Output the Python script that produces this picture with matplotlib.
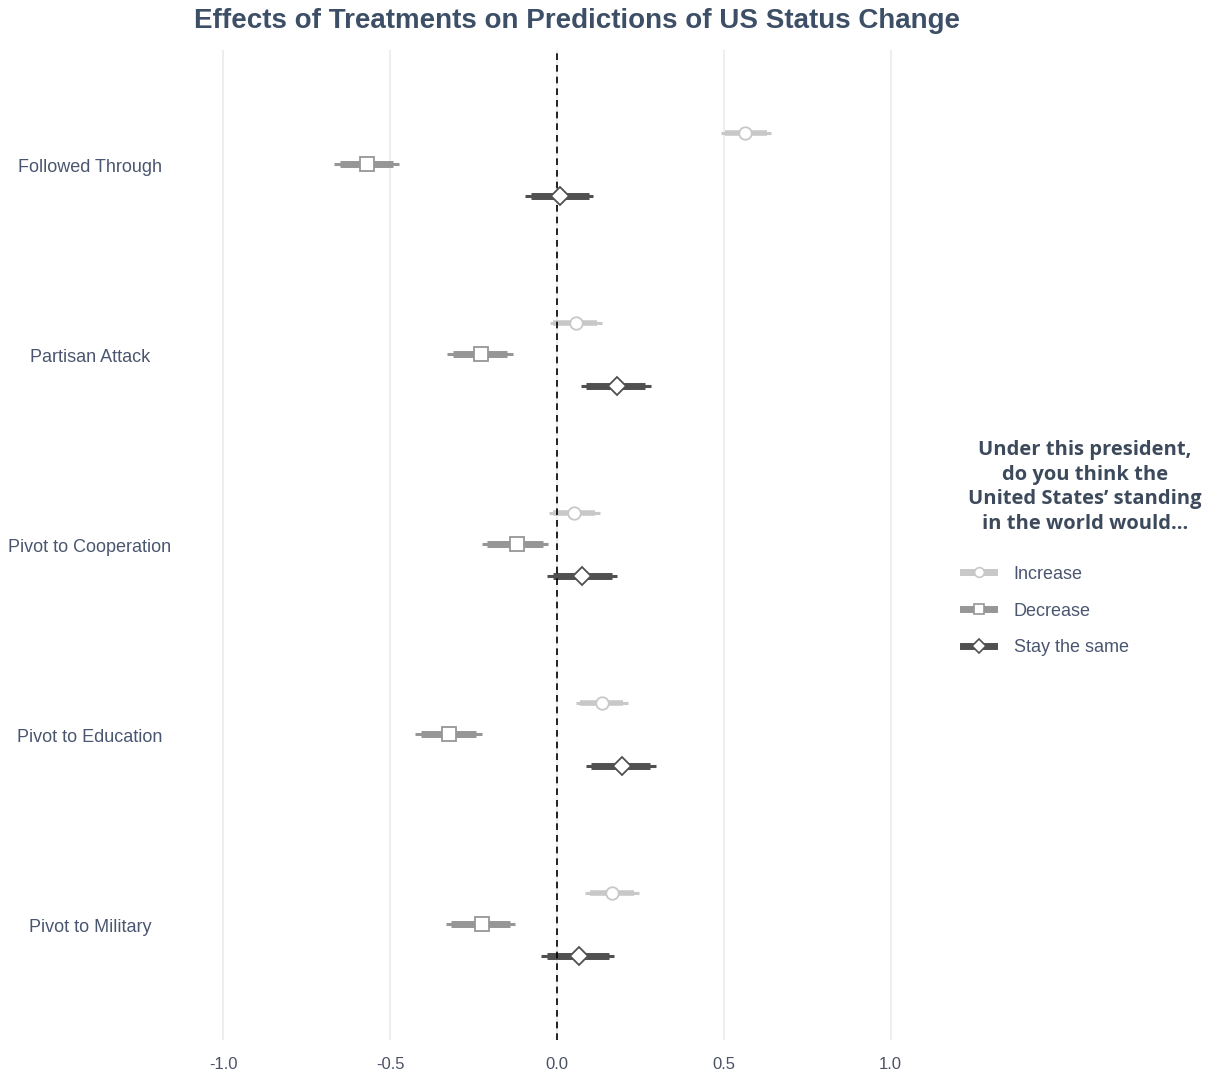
import matplotlib
matplotlib.use("Agg")
import matplotlib.pyplot as plt
from matplotlib.lines import Line2D
import numpy as np

categories = ["Followed Through", "Partisan Attack", "Pivot to Cooperation",
              "Pivot to Education", "Pivot to Military"]
series = ["Increase", "Decrease", "Stay the same"]

# estimates, inner (thick) CI, outer (thin) CI per series, in category order
est = {
    "Increase":      [0.564, 0.056, 0.051, 0.134, 0.164],
    "Decrease":      [-0.569, -0.228, -0.121, -0.323, -0.226],
    "Stay the same": [0.009, 0.179, 0.076, 0.194, 0.066],
}
inner_lo = {
    "Increase":      [0.504, -0.012, -0.011, 0.069, 0.099],
    "Decrease":      [-0.651, -0.313, -0.209, -0.409, -0.318],
    "Stay the same": [-0.079, 0.087, -0.013, 0.102, -0.031],
}
inner_hi = {
    "Increase":      [0.629, 0.119, 0.114, 0.197, 0.232],
    "Decrease":      [-0.492, -0.149, -0.041, -0.243, -0.141],
    "Stay the same": [0.095, 0.264, 0.164, 0.280, 0.156],
}
outer_lo = {
    "Increase":      [0.491, -0.021, -0.024, 0.057, 0.084],
    "Decrease":      [-0.669, -0.330, -0.226, -0.426, -0.334],
    "Stay the same": [-0.096, 0.071, -0.029, 0.087, -0.048],
}
outer_hi = {
    "Increase":      [0.641, 0.134, 0.129, 0.212, 0.247],
    "Decrease":      [-0.474, -0.132, -0.028, -0.226, -0.126],
    "Stay the same": [0.108, 0.281, 0.180, 0.296, 0.172],
}
xticks = [-1.0, -0.5, 0.0, 0.5, 1.0]
xtick_labels = ["-1.0", "-0.5", "0.0", "0.5", "1.0"]

colors = {"Increase": "#C8C8C8", "Decrease": "#969696", "Stay the same": "#505050"}
markers = {"Increase": "o", "Decrease": "s", "Stay the same": "D"}
msizes = {"Increase": 9.0, "Decrease": 10.0, "Stay the same": 9.5}
thick_w = {"Increase": 4.0, "Decrease": 5.0, "Stay the same": 5.0}
offsets = {"Increase": 0.175, "Decrease": 0.01, "Stay the same": -0.158}

plt.rcParams['font.family'] = ['Liberation Sans', 'DejaVu Sans']

fig = plt.figure(figsize=(12.12, 10.78), dpi=100)
ax = fig.add_axes([190/1212, 38/1078, 734/1212, 990/1078])

n = len(categories)
ypos = np.arange(n, 0, -1)  # top category at 5

ax.set_xlim(-1.1, 1.1)
ax.set_ylim(0.4, 5.61)

for xv in xticks:
    ax.axvline(xv, color="#EBEBEB", lw=1.2, zorder=0)
ax.axvline(0, color="black", lw=1.2, ls=(0, (4, 3)), zorder=3)

for s in series:
    c = colors[s]
    for i in range(n):
        y = ypos[i] + offsets[s]
        ax.plot([outer_lo[s][i], outer_hi[s][i]], [y, y], color=c, lw=2.2,
                solid_capstyle="butt", zorder=2)
        ax.plot([inner_lo[s][i], inner_hi[s][i]], [y, y], color=c, lw=thick_w[s],
                solid_capstyle="butt", zorder=2)
        ax.plot([est[s][i]], [y], marker=markers[s], ms=msizes[s], mfc="white",
                mec=c, mew=1.3, zorder=4, ls="none")

ax.set_xticks(xticks)
ax.set_xticklabels(xtick_labels, fontsize=12, color="#4A5264")
ax.set_yticks(ypos)
ax.set_yticklabels(categories, fontsize=13, color="#4A5670", ha="center")
ax.tick_params(axis="y", length=0, pad=72)
ax.tick_params(axis="x", length=0, pad=12)
for sp in ax.spines.values():
    sp.set_visible(False)

fig.text(577/1212, 1 - 21/1078, "Effects of Treatments on Predictions of US Status Change",
         ha="center", va="center", fontsize=20, fontweight="bold", color="#3D4F66")

# legend
fig.text(1085/1212, 1 - 487/1078,
         "Under this president,\ndo you think the\nUnited States\u2019 standing\nin the world would...",
         ha="center", va="center", fontsize=14.5, fontweight="bold", color="#3D4A5C",
         family=["Open Sans", "DejaVu Sans"], linespacing=1.32)
handles = []
for s in series:
    h = Line2D([0], [0], color=colors[s], lw=5.0, marker=markers[s],
               ms=7, mfc="white", mec=colors[s], mew=1.2)
    handles.append(h)
leg = fig.legend(handles, series, loc="center left",
                 bbox_to_anchor=(956/1212, 1 - 611/1078), frameon=False,
                 fontsize=13, handlelength=1.7, handletextpad=1.1,
                 labelspacing=1.1, borderaxespad=0)
for t in leg.get_texts():
    t.set_color("#4A5670")

fig.savefig("out.png", dpi=100, facecolor="white")
